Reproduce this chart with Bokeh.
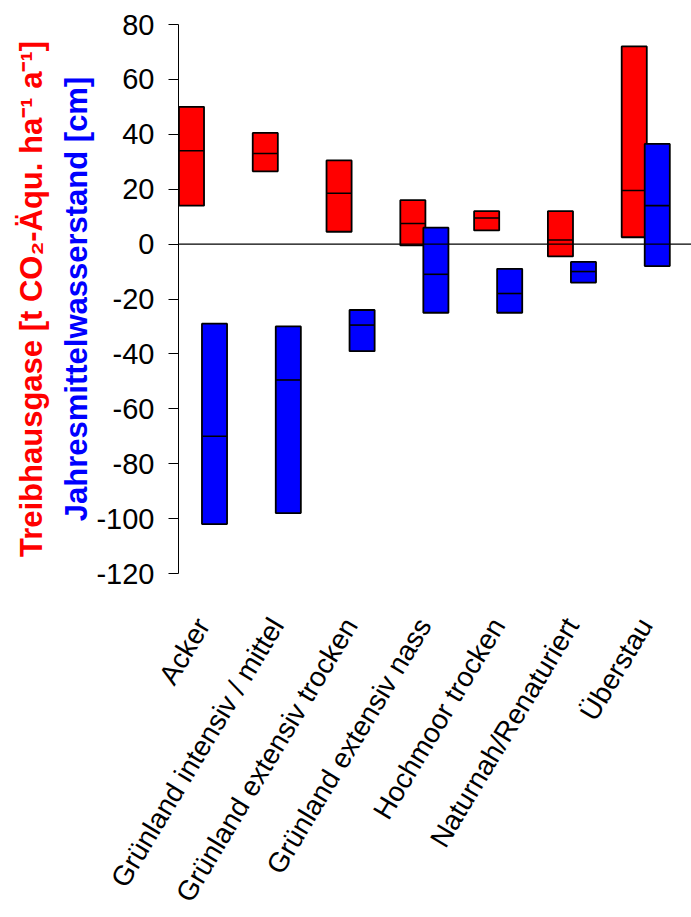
import numpy as np
from bokeh.plotting import figure
from bokeh.models import FixedTicker, Range1d, Span, Title
from bokeh.embed import file_html
from bokeh.resources import INLINE

categories = ["Acker", "Grünland intensiv / mittel", "Grünland extensiv trocken",
              "Grünland extensiv nass", "Hochmoor trocken", "Naturnah/Renaturiert", "Überstau"]
ghg_low = [14, 26.5, 4.5, -0.5, 5, -4.5, 2.5]
ghg_med = [34, 33, 18.5, 7.5, 9.5, 1.5, 19.5]
ghg_high = [50, 40.5, 30.5, 16, 12, 12, 72]
wl_low = [-102, -98, -39, -25, -25, -14, -8]
wl_med = [-70, -49.5, -29.5, -11, -18, -10, 14]
wl_high = [-29, -30, -24, 6, -9, -6.5, 36.5]
y_ticks = [-120, -100, -80, -60, -40, -20, 0, 20, 40, 60, 80]
y_tick_labels = ["-120", "-100", "-80", "-60", "-40", "-20", "0", "20", "40", "60", "80"]

idx = np.arange(len(categories))
off = 0.156
w = 0.34

p = figure(frame_width=513, frame_height=549, output_backend="svg", toolbar_location=None,
           x_range=Range1d(-0.332, 6.62), y_range=Range1d(-120, 80),
           min_border_left=178, min_border_right=0, min_border_top=24, min_border_bottom=10)
p.outline_line_color = None
p.xgrid.visible = False
p.ygrid.visible = False
p.background_fill_color = "white"

red_x = idx - off
blue_x = idx + off
p.vbar(x=red_x, width=w, bottom=ghg_low, top=ghg_high, fill_color="#FF0000",
       line_color="black", line_width=1.8)
p.segment(x0=red_x - w / 2, x1=red_x + w / 2, y0=ghg_med, y1=ghg_med, line_color="black", line_width=1.6)
p.vbar(x=blue_x, width=w, bottom=wl_low, top=wl_high, fill_color="#0000FF",
       line_color="black", line_width=1.8)
p.segment(x0=blue_x - w / 2, x1=blue_x + w / 2, y0=wl_med, y1=wl_med, line_color="black", line_width=1.6)

p.add_layout(Span(location=0, dimension="width", line_color="black", line_width=1.2))

# y axis
p.yaxis.ticker = FixedTicker(ticks=y_ticks)
p.yaxis.major_label_overrides = {t: l for t, l in zip(y_ticks, y_tick_labels)}
p.yaxis.axis_line_color = "black"
p.yaxis.major_tick_out = 10
p.yaxis.major_tick_in = 0
p.yaxis.minor_tick_line_color = None
p.yaxis.major_label_standoff = 14
p.yaxis.major_label_text_font = "Liberation Sans"
p.yaxis.major_label_text_font_size = "29px"
p.yaxis.major_label_text_color = "black"

# x axis
p.xaxis.ticker = FixedTicker(ticks=list(idx))
p.xaxis.major_label_overrides = {int(i): c for i, c in zip(idx, categories)}
p.xaxis.axis_line_color = None
p.xaxis.major_tick_line_color = None
p.xaxis.minor_tick_line_color = None
p.xaxis.major_label_orientation = np.deg2rad(59)
p.xaxis.major_label_standoff = 41
p.xaxis.major_label_text_font = "Liberation Sans"
p.xaxis.major_label_text_font_size = "28px"
p.xaxis.major_label_text_color = "black"

# two-coloured vertical axis title (blue nearest the axis, red outside)
p.add_layout(Title(text="Jahresmittelwasserstand [cm]", text_color="#0000FF",
                   text_font="Liberation Sans", text_font_style="bold", text_font_size="31px",
                   align="center", standoff=0), "left")
p.add_layout(Title(text="Treibhausgase [t CO₂-Äqu. ha⁻¹ a⁻¹]", text_color="#FF0000",
                   text_font="Liberation Sans", text_font_style="bold", text_font_size="31px",
                   align="center", standoff=16), "left")

open("out.html", "w").write(file_html(p, INLINE))
